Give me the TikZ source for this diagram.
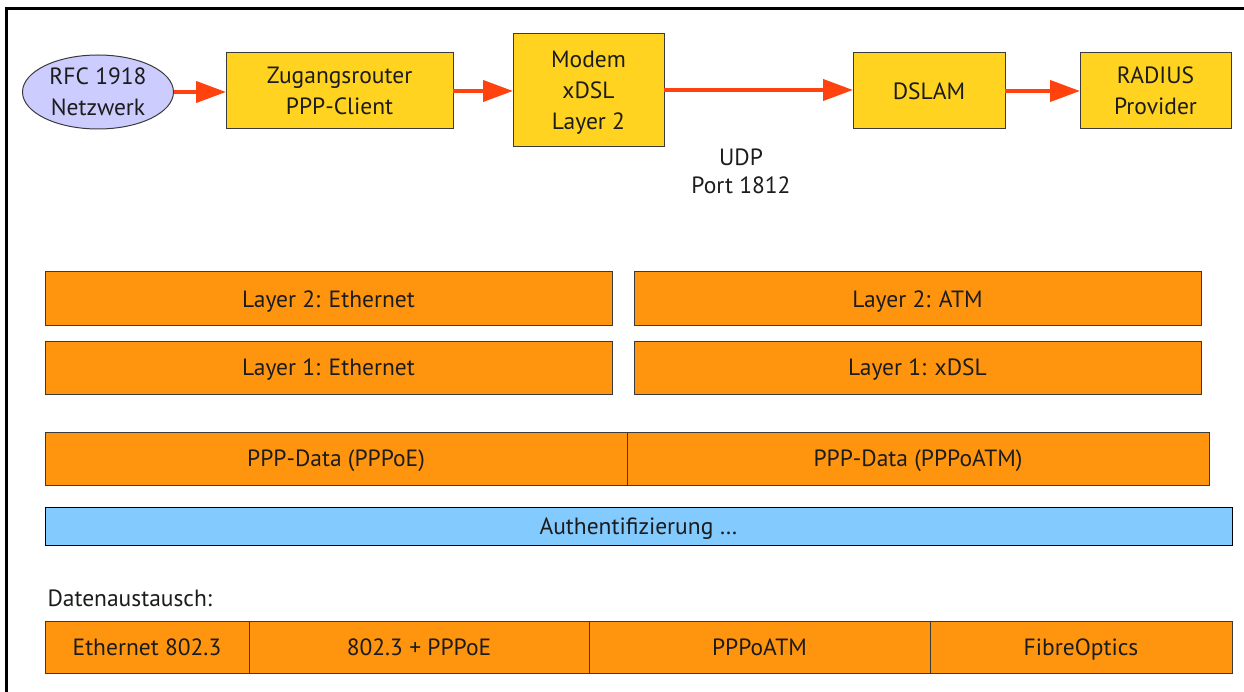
\documentclass[tikz,border=0pt]{standalone}
\usepackage{fontspec}
\setmainfont{PT Sans}
\usetikzlibrary{arrows.meta,shapes.geometric}
\definecolor{boxyellow}{HTML}{FFD320}
\definecolor{layerorange}{HTML}{FF950E}
\definecolor{authblue}{HTML}{83CAFF}
\definecolor{netlilac}{HTML}{CCCCFF}
\definecolor{linkred}{HTML}{FF420E}
\definecolor{edgegray}{HTML}{3A3A3A}
\definecolor{inkgray}{HTML}{1C1C1C}
\tikzset{
  txt/.style={font=\fontsize{23.5pt}{31pt}\selectfont, text=inkgray, align=center},
  % boxed labels sit a little below the geometric centre
  boxed/.style={txt, text depth=-1.5pt, inner sep=0pt, outer sep=0pt, line width=1pt},
  device/.style={boxed, rectangle, draw=edgegray, fill=boxyellow},
  cloud/.style={boxed, ellipse, draw=edgegray, fill=netlilac,
                minimum width=151pt, minimum height=74pt},
  layerbox/.style={boxed, rectangle, draw=edgegray, fill=layerorange},
  authbox/.style={boxed, rectangle, draw=black, fill=authblue},
  link/.style={draw=linkred, line width=4pt, -{Triangle[length=30pt,width=21pt]}}
}
\begin{document}
\begin{tikzpicture}[x=1pt, y=-1pt]
  \useasboundingbox (0,0) rectangle (1244,692);
  \fill[white] (0,0) rectangle (1244,692);
  % outer frame (runs past the page on the right and bottom)
  \draw[line width=3pt, black] (6.5,720) -- (6.5,9) -- (1260,9);

  % access chain
  \node[cloud] (net) at (98,92) {RFC 1918\\Netzwerk};
  \node[device, minimum width=227pt, minimum height=76pt] (router) at (339.5,91) {Zugangsrouter\\PPP-Client};
  \node[device, minimum width=151pt, minimum height=113pt] (modem) at (588.5,90.5) {Modem\\xDSL\\Layer 2};
  \node[device, minimum width=152pt, minimum height=76pt] (dslam) at (929,91) {DSLAM};
  \node[device, minimum width=151pt, minimum height=76pt] (radius) at (1155.5,91) {RADIUS\\Provider};

  \draw[link] (net.east |- 0,92) -- (router.west |- 0,92);
  \draw[link] (router.east |- 0,91) -- (modem.west |- 0,91);
  \draw[link] (modem.east |- 0,90) -- (dslam.west |- 0,90);
  \draw[link] (dslam.east |- 0,91) -- (radius.west |- 0,91);

  \node[txt, font=\fontsize{23.5pt}{28pt}\selectfont] (udp) at (741,171) {UDP\\Port 1812};

  % protocol layers
  \node[layerbox, minimum width=567pt, minimum height=54pt] (l2eth) at (328.5,299) {Layer 2: Ethernet};
  \node[layerbox, minimum width=567pt, minimum height=54pt] (l2atm) at (917.5,299) {Layer 2: ATM};
  \node[layerbox, minimum width=567pt, minimum height=53pt] (l1eth) at (328.5,367.5) {Layer 1: Ethernet};
  \node[layerbox, minimum width=567pt, minimum height=53pt] (l1dsl) at (917.5,367.5) {Layer 1: xDSL};

  \node[layerbox, minimum width=582pt, minimum height=53pt] (pppoe) at (336,458.5) {PPP-Data (PPPoE)};
  \node[layerbox, minimum width=582pt, minimum height=53pt] (pppoatm) at (918,458.5) {PPP-Data (PPPoATM)};

  \node[authbox, minimum width=1187pt, minimum height=38pt] (auth) at (638.5,526) {Authentifizierung \dots};

  \node[txt, anchor=west] (exch) at (44,598) {Datenaustausch:};

  \node[layerbox, minimum width=204pt, minimum height=52pt] (eth) at (147,647) {Ethernet 802.3};
  \node[layerbox, minimum width=340pt, minimum height=52pt] (e8023) at (419,647) {802.3 + PPPoE};
  \node[layerbox, minimum width=341pt, minimum height=52pt] (patm) at (759.5,647) {PPPoATM};
  \node[layerbox, minimum width=302pt, minimum height=52pt] (fibre) at (1081,647) {FibreOptics};
\end{tikzpicture}
\end{document}
